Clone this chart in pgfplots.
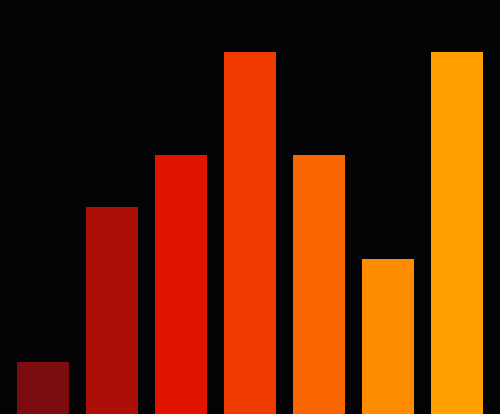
\documentclass[border=0pt]{standalone}
\usepackage{pgfplots}
\pgfplotsset{compat=1.18}
\definecolor{bg}{HTML}{040406}
\definecolor{c1}{HTML}{7D0C0E}
\definecolor{c2}{HTML}{AB0F07}
\definecolor{c3}{HTML}{E21400}
\definecolor{c4}{HTML}{EF3A00}
\definecolor{c5}{HTML}{F96600}
\definecolor{c6}{HTML}{FF8C00}
\definecolor{c7}{HTML}{FFA000}
\begin{document}
\begin{tikzpicture}
\begin{axis}[
  hide axis,
  scale only axis,
  width=10cm, height=8.28cm,
  xmin=-0.623, xmax=6.623,
  ymin=0, ymax=8,
  ybar, bar width=0.754, bar shift=0pt,
  clip=true,
]
% background
\fill[bg] (rel axis cs:0,0) rectangle (rel axis cs:1,1);
\addplot[fill=c1, draw=none] coordinates {(0,1)};
\addplot[fill=c2, draw=none] coordinates {(1,4)};
\addplot[fill=c3, draw=none] coordinates {(2,5)};
\addplot[fill=c4, draw=none] coordinates {(3,7)};
\addplot[fill=c5, draw=none] coordinates {(4,5)};
\addplot[fill=c6, draw=none] coordinates {(5,3)};
\addplot[fill=c7, draw=none] coordinates {(6,7)};
\end{axis}
\end{tikzpicture}
\end{document}
